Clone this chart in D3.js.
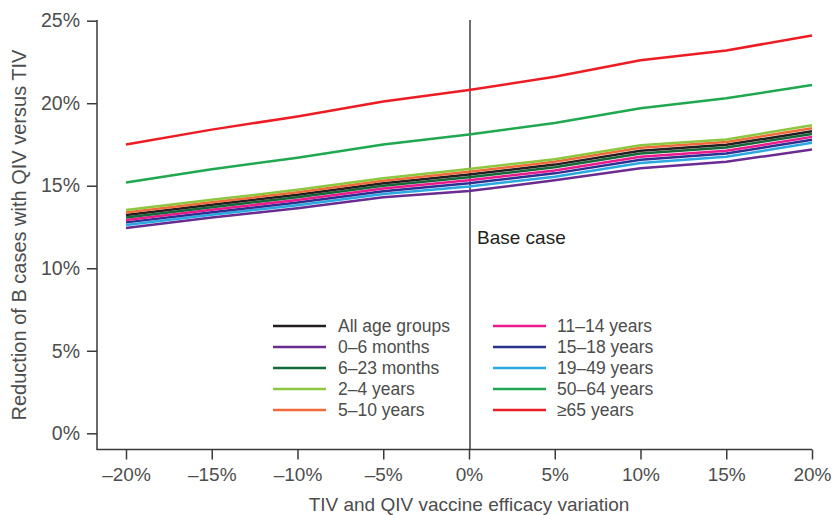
<!DOCTYPE html>
<meta charset="utf-8">
<title>Reduction of B cases with QIV versus TIV</title>
<style>
body { margin: 0; background: #fff; }
svg { font-family: "Liberation Sans", Helvetica, Arial, sans-serif; }
.tick text { fill: #4d4d4d; }
.axis-line { stroke: #3a3a3a; stroke-width: 1.5px; fill: none; }
.series { fill: none; stroke-width: 2.5px; }
</style>
<body>
<script src="https://cdn.jsdelivr.net/npm/d3@7"></script>
<script>

// efficacy variation (x axis), in %
var variation = [-20, -15, -10, -5, 0, 5, 10, 15, 20];

// reduction of B cases (%) per age group
var allAges   = [13.23, 13.85, 14.45, 15.15, 15.68, 16.28, 17.12, 17.48, 18.30];
var m0to6     = [12.44, 13.07, 13.63, 14.30, 14.68, 15.33, 16.06, 16.45, 17.20];
var m6to23    = [13.08, 13.70, 14.30, 15.00, 15.52, 16.12, 16.95, 17.32, 18.14];
var y2to4     = [13.53, 14.15, 14.75, 15.45, 16.02, 16.60, 17.45, 17.80, 18.67];
var y5to10    = [13.38, 14.00, 14.60, 15.30, 15.85, 16.45, 17.30, 17.65, 18.48];
var y11to14   = [12.93, 13.55, 14.14, 14.83, 15.33, 15.93, 16.76, 17.12, 17.96];
var y15to18   = [12.78, 13.40, 13.98, 14.67, 15.15, 15.75, 16.58, 16.95, 17.78];
var y19to49   = [12.62, 13.24, 13.82, 14.50, 14.95, 15.55, 16.38, 16.75, 17.60];
var y50to64   = [15.2, 16.0, 16.7, 17.5, 18.1, 18.8, 19.7, 20.3, 21.1];
var y65plus   = [17.5, 18.4, 19.2, 20.1, 20.8, 21.6, 22.6, 23.2, 24.1];

var seriesNames = ["All age groups", "0\u20136 months", "6\u201323 months", "2\u20134 years",
  "5\u201310 years", "11\u201314 years", "15\u201318 years", "19\u201349 years",
  "50\u201364 years", "\u226565 years"];
var seriesValues = [allAges, m0to6, m6to23, y2to4, y5to10, y11to14, y15to18, y19to49, y50to64, y65plus];
var seriesColors = ["#231f20", "#6a2c91", "#17693a", "#8dc63f", "#f26a3b",
  "#ec1a8c", "#2b3190", "#2aa9e0", "#1fa84f", "#ed1c24"];

var yTicks = [0, 5, 10, 15, 20, 25];
var xTicks = [-20, -15, -10, -5, 0, 5, 10, 15, 20];

var W = 835, H = 515;
var plot = {left: 97, right: 812, top: 20, bottom: 449.5};

var svg = d3.select("body").append("svg")
    .attr("width", W)
    .attr("height", H);

var x = d3.scaleLinear().domain([-20, 20]).range([126, 812]);
var y = d3.scaleLinear().domain([0, 25]).range([433.3, 20.7]);

// y axis
svg.append("g")
    .attr("transform", "translate(" + plot.left + ",0)")
    .call(d3.axisLeft(y).tickValues(yTicks).tickSize(10).tickPadding(7)
      .tickFormat(function(d) { return d + "%"; }))
    .call(function(g) {
      g.select(".domain").remove();
      g.selectAll("line").attr("stroke", "#3a3a3a").attr("stroke-width", 1.5);
      g.selectAll("text").attr("font-size", 19.5).attr("font-family", null);
    });

// x axis
svg.append("g")
    .attr("transform", "translate(0," + plot.bottom + ")")
    .call(d3.axisBottom(x).tickValues(xTicks).tickSize(10).tickPadding(8)
      .tickFormat(function(d) { return (d < 0 ? "\u2013" + (-d) : d) + "%"; }))
    .call(function(g) {
      g.select(".domain").remove();
      g.selectAll("line").attr("stroke", "#3a3a3a").attr("stroke-width", 1.5);
      g.selectAll("text").attr("font-size", 19).attr("font-family", null);
    });

svg.append("path")
    .attr("class", "axis-line")
    .attr("d", "M" + plot.left + "," + plot.top + "V" + plot.bottom + "H" + plot.right);

// axis titles
svg.append("text")
    .attr("transform", "translate(26,235) rotate(-90)")
    .attr("text-anchor", "middle")
    .attr("font-size", 20)
    .attr("fill", "#4d4d4d")
    .text("Reduction of B cases with QIV versus TIV");

svg.append("text")
    .attr("x", x(0))
    .attr("y", 511)
    .attr("text-anchor", "middle")
    .attr("font-size", 19)
    .attr("fill", "#4d4d4d")
    .text("TIV and QIV vaccine efficacy variation");

// base case marker
svg.append("line")
    .attr("x1", x(0) + 1).attr("x2", x(0) + 1)
    .attr("y1", plot.top).attr("y2", plot.bottom)
    .attr("stroke", "#231f20").attr("stroke-width", 1.3);

svg.append("text")
    .attr("x", x(0) + 8)
    .attr("y", 244)
    .attr("font-size", 19)
    .attr("fill", "#231f20")
    .text("Base case");

// lines: drawn so that the bundle order matches the picture
var line = d3.line()
    .x(function(d, i) { return x(variation[i]); })
    .y(function(d) { return y(d); });

var drawOrder = [9, 8, 1, 7, 6, 5, 2, 0, 4, 3];
svg.append("g")
  .selectAll("path")
    .data(drawOrder)
  .enter().append("path")
    .attr("class", "series")
    .attr("stroke", function(i) { return seriesColors[i]; })
    .attr("d", function(i) { return line(seriesValues[i]); });

// legend
var legend = svg.append("g").selectAll("g")
    .data(seriesNames)
  .enter().append("g")
    .attr("transform", function(d, i) {
      var col = i < 5 ? 0 : 1, row = i % 5;
      return "translate(" + (col ? 493 : 273) + "," + (326 + row * 21) + ")";
    });

legend.append("line")
    .attr("x1", 0).attr("x2", 53)
    .attr("stroke-width", 2.5)
    .attr("stroke", function(d, i) { return seriesColors[i]; });

legend.append("text")
    .attr("x", function(d, i) { return i < 5 ? 65 : 64; })
    .attr("dy", "0.35em")
    .attr("font-size", 17.5)
    .attr("fill", "#4d4d4d")
    .text(function(d) { return d; });

</script>
